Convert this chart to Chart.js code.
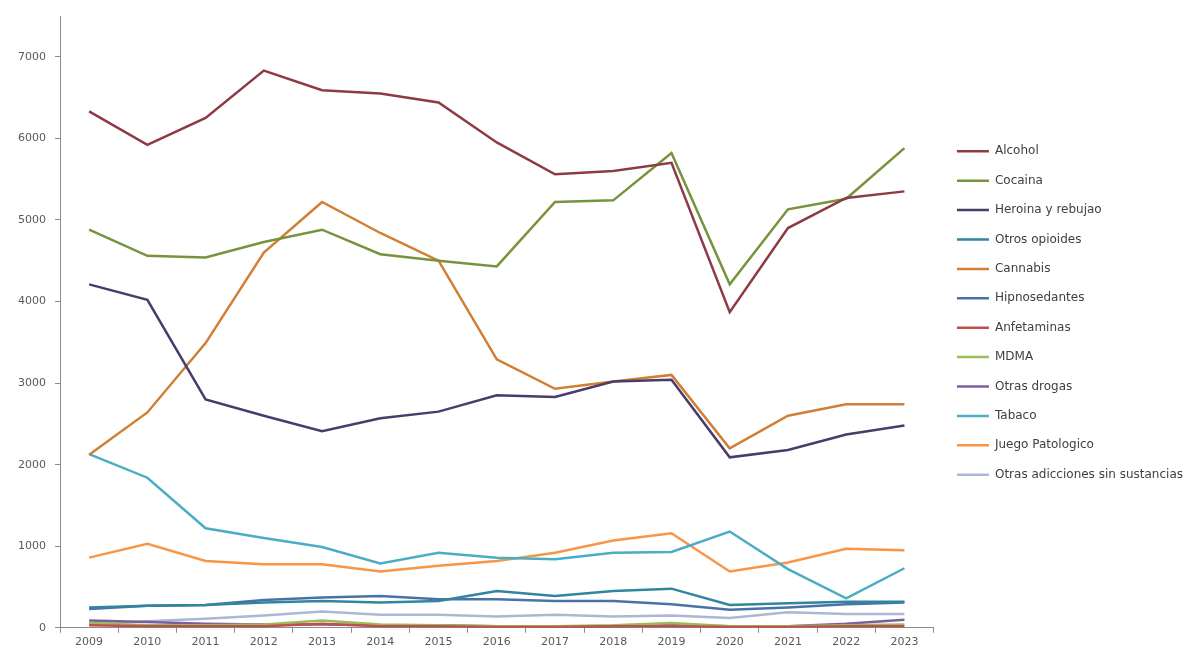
<!DOCTYPE html>
<html>
<head>
<meta charset="utf-8">
<script src="https://cdn.jsdelivr.net/npm/chart.js@4.4.1/dist/chart.umd.min.js"></script>
<style>
  html, body { margin: 0; padding: 0; background: #fff; }
  #wrap { width: 1187px; height: 653px; }
</style>
</head>
<body>
<div id="wrap"><canvas id="chart"></canvas></div>
<script>
const years = ['2009', '2010', '2011', '2012', '2013', '2014', '2015', '2016', '2017', '2018', '2019', '2020', '2021', '2022', '2023'];
const yTicks = [0, 1000, 2000, 3000, 4000, 5000, 6000, 7000];

const alcohol        = [6330, 5920, 6250, 6830, 6590, 6550, 6440, 5950, 5560, 5600, 5700, 3870, 4900, 5270, 5350];
const cocaina        = [4880, 4560, 4540, 4730, 4880, 4580, 4500, 4430, 5220, 5240, 5820, 4210, 5130, 5260, 5880];
const heroina        = [4210, 4020, 2800, 2600, 2410, 2570, 2650, 2850, 2830, 3020, 3040, 2090, 2180, 2370, 2480];
const otrosOpioides  = [250, 270, 280, 310, 330, 310, 330, 450, 390, 450, 480, 280, 300, 320, 320];
const cannabis       = [2120, 2640, 3490, 4600, 5220, 4840, 4500, 3290, 2930, 3020, 3100, 2200, 2600, 2740, 2740];
const hipnosedantes  = [230, 270, 280, 340, 370, 390, 350, 350, 330, 330, 290, 220, 250, 290, 310];
const anfetaminas    = [30, 20, 20, 20, 50, 20, 20, 10, 10, 20, 20, 10, 10, 20, 20];
const mdma           = [60, 30, 30, 40, 90, 40, 30, 20, 20, 30, 60, 20, 20, 30, 40];
const otrasDrogas    = [90, 70, 50, 40, 40, 30, 30, 20, 20, 20, 30, 20, 20, 50, 100];
const tabaco         = [2130, 1840, 1220, 1100, 990, 790, 920, 860, 840, 920, 930, 1180, 720, 360, 730];
const juego          = [860, 1030, 820, 780, 780, 690, 760, 820, 920, 1070, 1160, 690, 800, 970, 950];
const otrasAdicciones = [50, 80, 110, 150, 200, 160, 160, 140, 160, 140, 150, 120, 190, 170, 170];

const series = [
  ['Alcohol', alcohol, '#8e3a44'],
  ['Cocaina', cocaina, '#77933c'],
  ['Heroina y rebujao', heroina, '#4b3b6b'],
  ['Otros opioides', otrosOpioides, '#31859c'],
  ['Cannabis', cannabis, '#d07f35'],
  ['Hipnosedantes', hipnosedantes, '#4a72a8'],
  ['Anfetaminas', anfetaminas, '#c0504d'],
  ['MDMA', mdma, '#9bbb59'],
  ['Otras drogas', otrasDrogas, '#7a5f9e'],
  ['Tabaco', tabaco, '#4bacc6'],
  ['Juego Patologico', juego, '#f79646'],
  ['Otras adicciones sin sustancias', otrasAdicciones, '#aab8d4']
];

const data = {
  labels: years,
  datasets: series.map(s => ({
    label: s[0],
    data: s[1],
    borderColor: s[2],
    backgroundColor: s[2],
    borderWidth: 2.5,
    pointRadius: 0,
    tension: 0
  }))
};

// move the legend block to where the original one sits
const legendShift = {
  id: 'legendShift',
  afterLayout(chart) {
    const lg = chart.legend;
    lg.top -= 21;
    lg.bottom -= 21;
    lg.left += 6;
    lg.right += 6;
  }
};

const tickFont = { family: 'DejaVu Sans', size: 11 };

const config = {
  type: 'line',
  data: data,
  options: {
    responsive: true,
    maintainAspectRatio: false,
    animation: false,
    layout: { padding: { top: 16, right: 0, left: 0, bottom: 1 } },
    plugins: {
      legend: {
        position: 'right',
        labels: {
          usePointStyle: true,
          pointStyle: 'line',
          pointStyleWidth: 32,
          boxWidth: 30,
          boxHeight: 3,
          padding: 17.4,
          color: '#404040',
          font: { family: 'DejaVu Sans', size: 12 }
        }
      },
      tooltip: { enabled: false }
    },
    scales: {
      x: {
        offset: true,
        grid: { offset: true, drawOnChartArea: false, tickLength: 5, color: '#8c8c8c' },
        border: { color: '#8c8c8c' },
        ticks: { color: '#595959', padding: 3, maxRotation: 0, font: tickFont }
      },
      y: {
        min: 0,
        max: 7500,
        afterBuildTicks(axis) { axis.ticks = yTicks.map(v => ({ value: v })); },
        afterFit(axis) { axis.width = 60; },
        grid: { drawOnChartArea: false, tickLength: 5, color: '#8c8c8c' },
        border: { color: '#8c8c8c' },
        ticks: {
          color: '#595959',
          padding: 9,
          font: tickFont,
          callback: v => String(v)
        }
      }
    }
  },
  plugins: [legendShift]
};

var chart = new Chart(document.getElementById('chart'), config);
</script>
</body>
</html>
